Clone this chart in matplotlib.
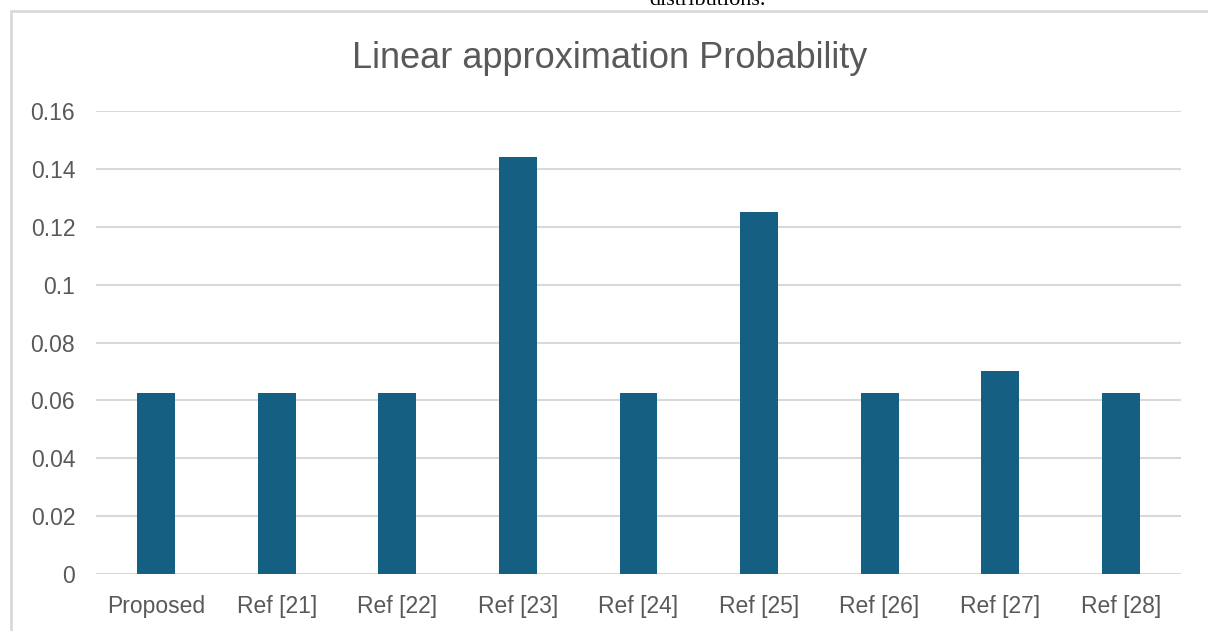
import matplotlib
matplotlib.use("Agg")
import matplotlib.pyplot as plt
from matplotlib.patches import Rectangle

# ------------------------------------------------------------------
# data
categories = ["Proposed", "Ref [21]", "Ref [22]", "Ref [23]", "Ref [24]",
              "Ref [25]", "Ref [26]", "Ref [27]", "Ref [28]"]
probability = [0.0625, 0.0625, 0.0625, 0.144, 0.0625, 0.125, 0.0625, 0.07, 0.0625]
y_ticks = [0, 0.02, 0.04, 0.06, 0.08, 0.1, 0.12, 0.14, 0.16]
y_tick_labels = ["0", "0.02", "0.04", "0.06", "0.08", "0.1", "0.12", "0.14", "0.16"]

BAR_COLOR = "#156082"
GRID_COLOR = "#d9d9d9"
TEXT_COLOR = "#595959"

W, H = 1208, 631
plt.rcParams["font.family"] = ["Liberation Sans", "DejaVu Sans"]

fig = plt.figure(figsize=(W / 100, H / 100), dpi=100)

# chart frame (the slide/border around the chart)
fig.add_artist(Rectangle((11 / W, -0.1), 1.2, (H - 11) / H + 0.1,
                         transform=fig.transFigure, fill=False,
                         edgecolor=GRID_COLOR, linewidth=2))

# cut-off caption text above the chart (cut off in the original too)
fig.text(708 / W, 1 - 5 / H, "distributions.", family="Liberation Serif",
         fontsize=16, color="black", ha="center", va="baseline")

ax = fig.add_axes([96 / W, 57 / H, (1181 - 96) / W, (574 - 111) / H])

x = range(len(categories))
ax.bar(x, probability, width=0.315, color=BAR_COLOR, zorder=3)

ax.set_xlim(-0.5, len(categories) - 0.5)
ax.set_ylim(0, 0.16)
ax.set_yticks(y_ticks)
ax.set_yticklabels(y_tick_labels)
ax.set_xticks(list(x))
ax.set_xticklabels(categories)

ax.grid(axis="y", color=GRID_COLOR, linewidth=1.5, zorder=0)
for s in ax.spines.values():
    s.set_visible(False)
ax.tick_params(axis="both", length=0, labelsize=16.5, colors=TEXT_COLOR)
ax.tick_params(axis="y", pad=15)
ax.tick_params(axis="x", pad=15)

fig.text(610 / W, 1 - 68 / H, "Linear approximation Probability",
         fontsize=26, color=TEXT_COLOR, ha="center", va="baseline")

fig.savefig("out.png", dpi=100, facecolor="white")
